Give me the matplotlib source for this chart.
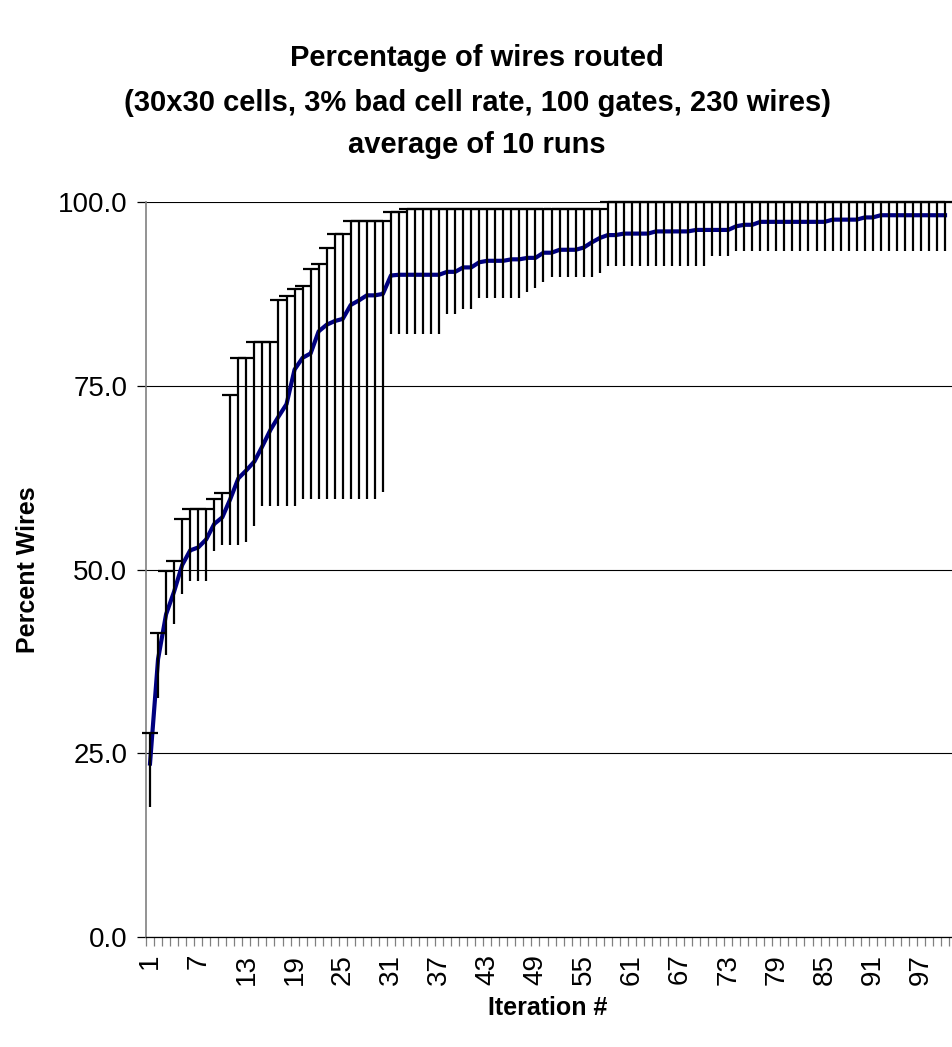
import matplotlib
matplotlib.use('Agg')
import matplotlib.pyplot as plt
from matplotlib.ticker import FixedLocator, FixedFormatter, FormatStrFormatter

plt.rcParams['font.family'] = ['Liberation Sans', 'DejaVu Sans']

# ---------------- data ----------------
iterations = list(range(1, 101))

mean_pct = [
    23.6, 37.8, 43.9, 47.0, 50.6, 52.6, 53.0, 54.1, 56.2, 57.1,
    59.6, 62.4, 63.5, 64.7, 66.8, 69.0, 70.8, 72.5, 77.2, 78.8,
    79.4, 82.4, 83.3, 83.8, 84.1, 86.0, 86.6, 87.3, 87.3, 87.5,
    90.0, 90.1, 90.1, 90.1, 90.1, 90.1, 90.1, 90.5, 90.5, 91.1,
    91.1, 91.8, 92.0, 92.0, 92.0, 92.2, 92.2, 92.4, 92.4, 93.1,
    93.1, 93.5, 93.5, 93.5, 93.8, 94.5, 95.1, 95.5, 95.5, 95.7,
    95.7, 95.7, 95.7, 96.0, 96.0, 96.0, 96.0, 96.0, 96.2, 96.2,
    96.2, 96.2, 96.2, 96.7, 96.9, 96.9, 97.3, 97.3, 97.3, 97.3,
    97.3, 97.3, 97.3, 97.3, 97.3, 97.6, 97.6, 97.6, 97.6, 97.9,
    97.9, 98.2, 98.2, 98.2, 98.2, 98.2, 98.2, 98.2, 98.2, 98.2,
]

upper_pct = [
    27.7, 41.4, 49.8, 51.1, 56.9, 58.2, 58.2, 58.2, 59.6, 60.4,
    73.8, 78.8, 78.8, 80.9, 80.9, 80.9, 86.7, 87.2, 88.1, 88.6,
    90.9, 91.6, 93.7, 95.6, 95.6, 97.4, 97.4, 97.4, 97.4, 97.4,
    98.6, 98.6, 99.1, 99.1, 99.1, 99.1, 99.1, 99.1, 99.1, 99.1,
    99.1, 99.1, 99.1, 99.1, 99.1, 99.1, 99.1, 99.1, 99.1, 99.1,
    99.1, 99.1, 99.1, 99.1, 99.1, 99.1, 99.1, 100.0, 100.0, 100.0,
    100.0, 100.0, 100.0, 100.0, 100.0, 100.0, 100.0, 100.0, 100.0, 100.0,
    100.0, 100.0, 100.0, 100.0, 100.0, 100.0, 100.0, 100.0, 100.0, 100.0,
    100.0, 100.0, 100.0, 100.0, 100.0, 100.0, 100.0, 100.0, 100.0, 100.0,
    100.0, 100.0, 100.0, 100.0, 100.0, 100.0, 100.0, 100.0, 100.0, 100.0,
]

lower_pct = [
    17.7, 32.5, 38.4, 42.6, 46.7, 48.4, 48.4, 48.4, 52.5, 53.3,
    53.3, 53.3, 53.8, 55.9, 58.7, 58.7, 58.7, 58.7, 58.7, 59.6,
    59.6, 59.6, 59.6, 59.6, 59.6, 59.6, 59.6, 59.6, 59.6, 60.5,
    82.0, 82.0, 82.0, 82.0, 82.0, 82.0, 82.0, 84.7, 84.7, 85.5,
    85.5, 86.9, 86.9, 86.9, 86.9, 86.9, 86.9, 87.7, 88.3, 89.1,
    89.8, 89.8, 89.8, 89.8, 89.8, 89.8, 90.4, 91.3, 91.3, 91.3,
    91.3, 91.3, 91.3, 91.3, 91.3, 91.3, 91.3, 91.3, 91.3, 91.3,
    92.6, 92.6, 92.6, 93.4, 93.4, 93.4, 93.4, 93.4, 93.4, 93.4,
    93.4, 93.4, 93.4, 93.4, 93.4, 93.4, 93.4, 93.4, 93.4, 93.4,
    93.4, 93.4, 93.4, 93.4, 93.4, 93.4, 93.4, 93.4, 93.4, 93.4,
]

x_label_positions = list(range(1, 101, 6))
x_tick_labels = [str(v) for v in x_label_positions]
y_ticks = [0, 25, 50, 75, 100]

title_lines = [
    "Percentage of wires routed",
    "(30x30 cells, 3% bad cell rate, 100 gates, 230 wires)",
    "average of 10 runs",
]

# ---------------- figure ----------------
W, H = 952, 1047
fig = plt.figure(figsize=(W / 100, H / 100), dpi=100)
fig.patch.set_facecolor('white')

left_px, right_px, top_px, bottom_px = 146, 952, 202, 937
ax = fig.add_axes([left_px / W, 1 - bottom_px / H,
                   (right_px - left_px) / W, (bottom_px - top_px) / H])

ax.set_xlim(0.5, 100.87)
ax.set_ylim(0, 100)

# grid
ax.set_axisbelow(True)
ax.yaxis.grid(True, color='black', lw=0.8, zorder=0)
ax.xaxis.grid(False)

# mean line
ax.plot(iterations, mean_pct, color='#000080', lw=3.0, zorder=3,
        solid_joinstyle='round')

# error bars (caps on upper end only)
ax.vlines(iterations, lower_pct, upper_pct, colors='black', lw=1.6, zorder=4)
ax.plot(iterations, upper_pct, ls='none', marker='_', ms=11, mew=1.6,
        color='black', zorder=4, clip_on=False)

# spines
for s in ('top', 'right'):
    ax.spines[s].set_visible(False)
ax.spines['left'].set_color('#808080')
ax.spines['left'].set_linewidth(1.2)
ax.spines['bottom'].set_color('black')
ax.spines['bottom'].set_linewidth(0.9)

# y axis ticks
ax.yaxis.set_major_locator(FixedLocator(y_ticks))
ax.yaxis.set_major_formatter(FormatStrFormatter('%.1f'))
ax.tick_params(axis='y', which='major', length=6.5, width=0.9, color='black',
               direction='out', labelsize=20, pad=7)

# x axis ticks: labels at category centres, tick marks between categories
ax.xaxis.set_major_locator(FixedLocator(x_label_positions))
ax.xaxis.set_major_formatter(FixedFormatter(x_tick_labels))
ax.xaxis.set_minor_locator(FixedLocator([i + 0.5 for i in range(0, 101)]))
ax.tick_params(axis='x', which='major', length=0, labelsize=20, pad=12,
               labelrotation=90)
ax.tick_params(axis='x', which='minor', length=6.5, width=0.9,
               color='#808080', direction='out')

ax.set_ylabel('Percent Wires', fontsize=18, fontweight='bold')
ax.yaxis.set_label_coords(-(146 - 28) / (952 - 146), 0.5 - (570 - 569.5) / 735)
ax.yaxis.label.set_va('center')
fig.text(548 / W, 1 - 1008 / H, 'Iteration #', fontsize=18, fontweight='bold',
         ha='center', va='center')

for line, ypx in zip(title_lines, [58, 103, 145]):
    fig.text(477 / W, 1 - ypx / H, line, fontsize=21, fontweight='bold',
             ha='center', va='center')

fig.savefig('out.png', dpi=100, facecolor='white')
